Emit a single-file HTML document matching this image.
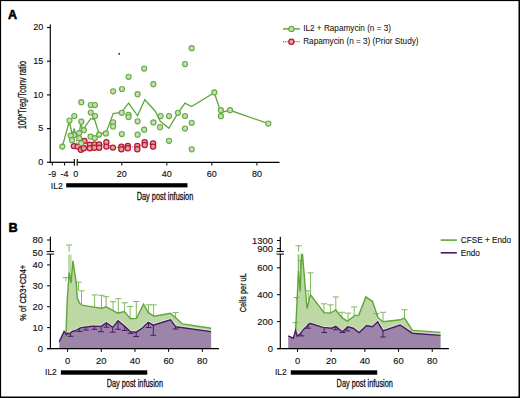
<!DOCTYPE html>
<html><head><meta charset="utf-8"><style>
html,body{margin:0;padding:0;background:#fff;}
svg{display:block;}
text{font-family:"Liberation Sans", sans-serif;}
</style></head><body>
<svg width="520" height="398" viewBox="0 0 520 398">
<rect x="0" y="0" width="520" height="398" fill="#fff"/>
<text x="8.0" y="18.7" font-size="12.5" text-anchor="start" font-weight="bold" stroke="#000" stroke-width="0.55" fill="#000">A</text>
<text x="8.5" y="231.6" font-size="12.8" text-anchor="start" font-weight="bold" stroke="#000" stroke-width="0.55" fill="#000">B</text>
<line x1="50.30" y1="24.50" x2="50.30" y2="162.85" stroke="#000" stroke-width="1.15"/>
<line x1="47.00" y1="162.30" x2="50.30" y2="162.30" stroke="#000" stroke-width="1.1"/>
<text x="43.3" y="165.1" font-size="9" text-anchor="end" font-weight="normal" stroke="#111" stroke-width="0.14" fill="#111">0</text>
<line x1="47.00" y1="128.60" x2="50.30" y2="128.60" stroke="#000" stroke-width="1.1"/>
<text x="43.3" y="131.4" font-size="9" text-anchor="end" font-weight="normal" stroke="#111" stroke-width="0.14" fill="#111">5</text>
<line x1="47.00" y1="94.90" x2="50.30" y2="94.90" stroke="#000" stroke-width="1.1"/>
<text x="43.3" y="97.7" font-size="9" text-anchor="end" font-weight="normal" stroke="#111" stroke-width="0.14" fill="#111">10</text>
<line x1="47.00" y1="61.20" x2="50.30" y2="61.20" stroke="#000" stroke-width="1.1"/>
<text x="43.3" y="64.0" font-size="9" text-anchor="end" font-weight="normal" stroke="#111" stroke-width="0.14" fill="#111">15</text>
<line x1="47.00" y1="27.50" x2="50.30" y2="27.50" stroke="#000" stroke-width="1.1"/>
<text x="43.3" y="30.3" font-size="9" text-anchor="end" font-weight="normal" stroke="#111" stroke-width="0.14" fill="#111">20</text>
<line x1="49.80" y1="162.30" x2="74.35" y2="162.30" stroke="#000" stroke-width="1.25"/>
<line x1="77.20" y1="162.30" x2="279.50" y2="162.30" stroke="#000" stroke-width="1.25"/>
<line x1="74.35" y1="159.00" x2="74.35" y2="165.80" stroke="#000" stroke-width="1.1"/>
<line x1="77.20" y1="159.00" x2="77.20" y2="165.80" stroke="#000" stroke-width="1.1"/>
<line x1="52.30" y1="162.30" x2="52.30" y2="165.50" stroke="#000" stroke-width="1.0"/>
<text x="52.3" y="176.8" font-size="9" text-anchor="middle" font-weight="normal" stroke="#111" stroke-width="0.14" fill="#111">-9</text>
<line x1="64.60" y1="162.30" x2="64.60" y2="165.50" stroke="#000" stroke-width="1.0"/>
<text x="64.6" y="176.8" font-size="9" text-anchor="middle" font-weight="normal" stroke="#111" stroke-width="0.14" fill="#111">-4</text>
<text x="75.7" y="176.8" font-size="9" text-anchor="middle" font-weight="normal" stroke="#111" stroke-width="0.14" fill="#111">0</text>
<line x1="121.80" y1="162.30" x2="121.80" y2="165.50" stroke="#000" stroke-width="1.0"/>
<text x="121.8" y="176.8" font-size="9" text-anchor="middle" font-weight="normal" stroke="#111" stroke-width="0.14" fill="#111">20</text>
<line x1="166.84" y1="162.30" x2="166.84" y2="165.50" stroke="#000" stroke-width="1.0"/>
<text x="166.84" y="176.8" font-size="9" text-anchor="middle" font-weight="normal" stroke="#111" stroke-width="0.14" fill="#111">40</text>
<line x1="211.87" y1="162.30" x2="211.87" y2="165.50" stroke="#000" stroke-width="1.0"/>
<text x="211.87" y="176.8" font-size="9" text-anchor="middle" font-weight="normal" stroke="#111" stroke-width="0.14" fill="#111">60</text>
<line x1="256.91" y1="162.30" x2="256.91" y2="165.50" stroke="#000" stroke-width="1.0"/>
<text x="256.91" y="176.8" font-size="9" text-anchor="middle" font-weight="normal" stroke="#111" stroke-width="0.14" fill="#111">80</text>
<text x="50.8" y="188.7" font-size="9" text-anchor="start" font-weight="normal" stroke="#111" stroke-width="0.14" textLength="11.9" lengthAdjust="spacingAndGlyphs" fill="#111">IL2</text>
<rect x="66.2" y="183.2" width="121.3" height="4.2" fill="#000"/>
<text x="136.7" y="199.8" font-size="10" text-anchor="start" font-weight="normal" stroke="#111" stroke-width="0.28" textLength="56.6" lengthAdjust="spacingAndGlyphs" fill="#111">Day post infusion</text>
<text x="26.4" y="95.0" font-size="10.3" text-anchor="middle" font-weight="normal" stroke="#111" stroke-width="0.25" textLength="68.0" lengthAdjust="spacingAndGlyphs" transform="rotate(-90 26.4 95.0)" fill="#111">100*Treg/Tconv ratio</text>
<polyline points="76.60,140.20 76.60,146.50 80.00,147.50 84.00,145.00 90.00,146.00 94.40,145.70 99.10,145.70 106.40,144.00 112.90,147.20 121.40,147.50 127.80,146.70 137.30,147.20 144.70,143.30 153.10,144.60" fill="none" stroke="#b8163c" stroke-width="0.9" stroke-dasharray="1 1.2"/>
<circle cx="73.9" cy="146.10" r="2.6" fill="#dea68e" stroke="#b8163c" stroke-width="1.25"/>
<circle cx="77.7" cy="146.60" r="2.6" fill="#dea68e" stroke="#b8163c" stroke-width="1.25"/>
<circle cx="80.9" cy="149.70" r="2.6" fill="#dea68e" stroke="#b8163c" stroke-width="1.25"/>
<circle cx="84.4" cy="140.90" r="2.6" fill="#dea68e" stroke="#b8163c" stroke-width="1.25"/>
<circle cx="83.8" cy="148.20" r="2.6" fill="#dea68e" stroke="#b8163c" stroke-width="1.25"/>
<circle cx="89.8" cy="144.70" r="2.6" fill="#dea68e" stroke="#b8163c" stroke-width="1.25"/>
<circle cx="89.9" cy="148.20" r="2.6" fill="#dea68e" stroke="#b8163c" stroke-width="1.25"/>
<circle cx="94.4" cy="144.50" r="2.6" fill="#dea68e" stroke="#b8163c" stroke-width="1.25"/>
<circle cx="94.4" cy="147.70" r="2.6" fill="#dea68e" stroke="#b8163c" stroke-width="1.25"/>
<circle cx="99.1" cy="144.40" r="2.6" fill="#dea68e" stroke="#b8163c" stroke-width="1.25"/>
<circle cx="99.1" cy="147.80" r="2.6" fill="#dea68e" stroke="#b8163c" stroke-width="1.25"/>
<circle cx="106.4" cy="142.20" r="2.6" fill="#dea68e" stroke="#b8163c" stroke-width="1.25"/>
<circle cx="106.4" cy="146.60" r="2.6" fill="#dea68e" stroke="#b8163c" stroke-width="1.25"/>
<circle cx="112.9" cy="147.60" r="2.6" fill="#dea68e" stroke="#b8163c" stroke-width="1.25"/>
<circle cx="121.4" cy="146.60" r="2.6" fill="#dea68e" stroke="#b8163c" stroke-width="1.25"/>
<circle cx="121.4" cy="149.20" r="2.6" fill="#dea68e" stroke="#b8163c" stroke-width="1.25"/>
<circle cx="127.8" cy="146.00" r="2.6" fill="#dea68e" stroke="#b8163c" stroke-width="1.25"/>
<circle cx="127.8" cy="148.20" r="2.6" fill="#dea68e" stroke="#b8163c" stroke-width="1.25"/>
<circle cx="137.3" cy="146.00" r="2.6" fill="#dea68e" stroke="#b8163c" stroke-width="1.25"/>
<circle cx="137.3" cy="149.20" r="2.6" fill="#dea68e" stroke="#b8163c" stroke-width="1.25"/>
<circle cx="144.7" cy="142.30" r="2.6" fill="#dea68e" stroke="#b8163c" stroke-width="1.25"/>
<circle cx="144.7" cy="145.00" r="2.6" fill="#dea68e" stroke="#b8163c" stroke-width="1.25"/>
<circle cx="153.1" cy="143.40" r="2.6" fill="#dea68e" stroke="#b8163c" stroke-width="1.25"/>
<circle cx="153.1" cy="146.60" r="2.6" fill="#dea68e" stroke="#b8163c" stroke-width="1.25"/>
<polyline points="62.30,146.60 69.30,121.50 72.30,135.00 74.20,128.50 75.50,134.50 79.20,132.50 80.80,124.30 83.10,129.70 90.80,118.50 94.60,119.60 99.00,133.50 105.80,133.40 113.20,113.60 121.40,112.30 128.60,103.10 137.60,115.80 144.80,99.70 155.30,111.20 160.30,121.30 168.90,128.30 178.00,112.80 185.00,103.10 191.50,106.50 214.30,92.80 220.90,112.50 230.00,110.30 268.30,123.60" fill="none" stroke="#5ea63b" stroke-width="1.3" stroke-linejoin="miter"/>
<circle cx="62.3" cy="146.6" r="2.55" fill="#c6ddb4" stroke="#66ac45" stroke-width="1.15"/>
<circle cx="69.5" cy="120.6" r="2.55" fill="#c6ddb4" stroke="#66ac45" stroke-width="1.15"/>
<circle cx="74.3" cy="116.1" r="2.55" fill="#c6ddb4" stroke="#66ac45" stroke-width="1.15"/>
<circle cx="81.3" cy="102.2" r="2.55" fill="#c6ddb4" stroke="#66ac45" stroke-width="1.15"/>
<circle cx="90.8" cy="105.1" r="2.55" fill="#c6ddb4" stroke="#66ac45" stroke-width="1.15"/>
<circle cx="94.9" cy="105.1" r="2.55" fill="#c6ddb4" stroke="#66ac45" stroke-width="1.15"/>
<circle cx="90.8" cy="112.5" r="2.55" fill="#c6ddb4" stroke="#66ac45" stroke-width="1.15"/>
<circle cx="95.0" cy="116.0" r="2.55" fill="#c6ddb4" stroke="#66ac45" stroke-width="1.15"/>
<circle cx="81.3" cy="121.7" r="2.55" fill="#c6ddb4" stroke="#66ac45" stroke-width="1.15"/>
<circle cx="83.9" cy="130.1" r="2.55" fill="#c6ddb4" stroke="#66ac45" stroke-width="1.15"/>
<circle cx="79.2" cy="133.1" r="2.55" fill="#c6ddb4" stroke="#66ac45" stroke-width="1.15"/>
<circle cx="74.1" cy="135.1" r="2.55" fill="#c6ddb4" stroke="#66ac45" stroke-width="1.15"/>
<circle cx="70.7" cy="135.6" r="2.55" fill="#c6ddb4" stroke="#66ac45" stroke-width="1.15"/>
<circle cx="72.0" cy="140.2" r="2.55" fill="#c6ddb4" stroke="#66ac45" stroke-width="1.15"/>
<circle cx="79.2" cy="138.2" r="2.55" fill="#c6ddb4" stroke="#66ac45" stroke-width="1.15"/>
<circle cx="81.3" cy="143.2" r="2.55" fill="#c6ddb4" stroke="#66ac45" stroke-width="1.15"/>
<circle cx="90.6" cy="136.7" r="2.55" fill="#c6ddb4" stroke="#66ac45" stroke-width="1.15"/>
<circle cx="94.8" cy="138.1" r="2.55" fill="#c6ddb4" stroke="#66ac45" stroke-width="1.15"/>
<circle cx="99.1" cy="134.6" r="2.55" fill="#c6ddb4" stroke="#66ac45" stroke-width="1.15"/>
<circle cx="105.9" cy="133.4" r="2.55" fill="#c6ddb4" stroke="#66ac45" stroke-width="1.15"/>
<circle cx="113.1" cy="122.3" r="2.55" fill="#c6ddb4" stroke="#66ac45" stroke-width="1.15"/>
<circle cx="113.1" cy="126.4" r="2.55" fill="#c6ddb4" stroke="#66ac45" stroke-width="1.15"/>
<circle cx="113.1" cy="91.3" r="2.55" fill="#c6ddb4" stroke="#66ac45" stroke-width="1.15"/>
<circle cx="128.6" cy="76.8" r="2.55" fill="#c6ddb4" stroke="#66ac45" stroke-width="1.15"/>
<circle cx="144.2" cy="68.6" r="2.55" fill="#c6ddb4" stroke="#66ac45" stroke-width="1.15"/>
<circle cx="153.4" cy="84.2" r="2.55" fill="#c6ddb4" stroke="#66ac45" stroke-width="1.15"/>
<circle cx="122.0" cy="89.0" r="2.55" fill="#c6ddb4" stroke="#66ac45" stroke-width="1.15"/>
<circle cx="137.6" cy="94.2" r="2.55" fill="#c6ddb4" stroke="#66ac45" stroke-width="1.15"/>
<circle cx="121.8" cy="112.8" r="2.55" fill="#c6ddb4" stroke="#66ac45" stroke-width="1.15"/>
<circle cx="128.5" cy="114.8" r="2.55" fill="#c6ddb4" stroke="#66ac45" stroke-width="1.15"/>
<circle cx="128.5" cy="117.0" r="2.55" fill="#c6ddb4" stroke="#66ac45" stroke-width="1.15"/>
<circle cx="137.6" cy="121.3" r="2.55" fill="#c6ddb4" stroke="#66ac45" stroke-width="1.15"/>
<circle cx="153.4" cy="122.4" r="2.55" fill="#c6ddb4" stroke="#66ac45" stroke-width="1.15"/>
<circle cx="160.6" cy="116.1" r="2.55" fill="#c6ddb4" stroke="#66ac45" stroke-width="1.15"/>
<circle cx="169.0" cy="116.1" r="2.55" fill="#c6ddb4" stroke="#66ac45" stroke-width="1.15"/>
<circle cx="160.0" cy="127.2" r="2.55" fill="#c6ddb4" stroke="#66ac45" stroke-width="1.15"/>
<circle cx="144.2" cy="129.7" r="2.55" fill="#c6ddb4" stroke="#66ac45" stroke-width="1.15"/>
<circle cx="121.8" cy="134.0" r="2.55" fill="#c6ddb4" stroke="#66ac45" stroke-width="1.15"/>
<circle cx="137.6" cy="134.7" r="2.55" fill="#c6ddb4" stroke="#66ac45" stroke-width="1.15"/>
<circle cx="169.0" cy="140.8" r="2.55" fill="#c6ddb4" stroke="#66ac45" stroke-width="1.15"/>
<circle cx="191.7" cy="48.2" r="2.55" fill="#c6ddb4" stroke="#66ac45" stroke-width="1.15"/>
<circle cx="185.0" cy="64.0" r="2.55" fill="#c6ddb4" stroke="#66ac45" stroke-width="1.15"/>
<circle cx="178.0" cy="112.8" r="2.55" fill="#c6ddb4" stroke="#66ac45" stroke-width="1.15"/>
<circle cx="185.0" cy="116.0" r="2.55" fill="#c6ddb4" stroke="#66ac45" stroke-width="1.15"/>
<circle cx="185.0" cy="128.5" r="2.55" fill="#c6ddb4" stroke="#66ac45" stroke-width="1.15"/>
<circle cx="191.7" cy="122.8" r="2.55" fill="#c6ddb4" stroke="#66ac45" stroke-width="1.15"/>
<circle cx="191.7" cy="149.3" r="2.55" fill="#c6ddb4" stroke="#66ac45" stroke-width="1.15"/>
<circle cx="214.3" cy="92.4" r="2.55" fill="#c6ddb4" stroke="#66ac45" stroke-width="1.15"/>
<circle cx="220.9" cy="110.2" r="2.55" fill="#c6ddb4" stroke="#66ac45" stroke-width="1.15"/>
<circle cx="220.9" cy="116.2" r="2.55" fill="#c6ddb4" stroke="#66ac45" stroke-width="1.15"/>
<circle cx="230.0" cy="110.2" r="2.55" fill="#c6ddb4" stroke="#66ac45" stroke-width="1.15"/>
<circle cx="268.3" cy="123.6" r="2.55" fill="#c6ddb4" stroke="#66ac45" stroke-width="1.15"/>
<circle cx="119.2" cy="53.8" r="0.9" fill="#111"/>
<line x1="283.00" y1="28.90" x2="299.90" y2="28.90" stroke="#5ea63b" stroke-width="1.5"/>
<circle cx="291.4" cy="28.9" r="2.6" fill="#c6ddb4" stroke="#66ac45" stroke-width="1.15"/>
<text x="303.2" y="31.0" font-size="8.2" text-anchor="start" font-weight="normal" stroke="#111" stroke-width="0.05" fill="#111">IL2 + Rapamycin (n = 3)</text>
<line x1="283.00" y1="41.70" x2="299.90" y2="41.70" stroke="#b8163c" stroke-width="1.1" stroke-dasharray="1 0.8"/>
<circle cx="291.4" cy="41.7" r="2.6" fill="#dea68e" stroke="#b8163c" stroke-width="1.25"/>
<text x="303.2" y="43.9" font-size="8.2" text-anchor="start" font-weight="normal" stroke="#111" stroke-width="0.05" fill="#111">Rapamycin (n = 3) (Prior Study)</text>
<polygon points="66.00,333.00 67.30,298.00 69.20,272.60 71.10,283.00 72.90,260.80 76.30,283.00 77.30,298.00 79.60,303.20 82.10,305.20 94.00,307.10 101.30,308.30 106.10,306.80 113.10,310.60 117.70,313.20 124.30,311.50 130.40,318.80 136.50,318.40 143.50,304.20 148.30,312.70 154.20,316.30 170.50,313.20 175.40,317.60 182.40,323.90 211.10,328.20 211.10,348.00 66.00,348.00" fill="#bed8a5"/>
<rect x="68.1" y="254.6" width="3.5" height="45.400000000000006" fill="#bed8a5"/>
<line x1="65.90" y1="277.60" x2="65.90" y2="281.00" stroke="#7fbb60" stroke-width="1.0"/>
<line x1="62.80" y1="277.60" x2="69.00" y2="277.60" stroke="#7fbb60" stroke-width="1.0"/>
<line x1="69.10" y1="245.00" x2="69.10" y2="251.60" stroke="#7fbb60" stroke-width="1.0"/>
<line x1="66.00" y1="245.00" x2="72.20" y2="245.00" stroke="#7fbb60" stroke-width="1.0"/>
<line x1="78.50" y1="282.20" x2="78.50" y2="290.00" stroke="#7fbb60" stroke-width="1.0"/>
<line x1="75.40" y1="282.20" x2="81.60" y2="282.20" stroke="#7fbb60" stroke-width="1.0"/>
<line x1="81.50" y1="290.80" x2="81.50" y2="304.00" stroke="#7fbb60" stroke-width="1.0"/>
<line x1="78.40" y1="290.80" x2="84.60" y2="290.80" stroke="#7fbb60" stroke-width="1.0"/>
<line x1="94.60" y1="294.90" x2="94.60" y2="307.00" stroke="#7fbb60" stroke-width="1.0"/>
<line x1="91.50" y1="294.90" x2="97.70" y2="294.90" stroke="#7fbb60" stroke-width="1.0"/>
<line x1="101.50" y1="295.30" x2="101.50" y2="308.30" stroke="#7fbb60" stroke-width="1.0"/>
<line x1="98.40" y1="295.30" x2="104.60" y2="295.30" stroke="#7fbb60" stroke-width="1.0"/>
<line x1="106.10" y1="296.70" x2="106.10" y2="306.80" stroke="#7fbb60" stroke-width="1.0"/>
<line x1="103.00" y1="296.70" x2="109.20" y2="296.70" stroke="#7fbb60" stroke-width="1.0"/>
<line x1="113.10" y1="301.70" x2="113.10" y2="310.60" stroke="#7fbb60" stroke-width="1.0"/>
<line x1="110.00" y1="301.70" x2="116.20" y2="301.70" stroke="#7fbb60" stroke-width="1.0"/>
<line x1="118.30" y1="298.70" x2="118.30" y2="313.20" stroke="#7fbb60" stroke-width="1.0"/>
<line x1="115.20" y1="298.70" x2="121.40" y2="298.70" stroke="#7fbb60" stroke-width="1.0"/>
<line x1="124.60" y1="302.80" x2="124.60" y2="311.50" stroke="#7fbb60" stroke-width="1.0"/>
<line x1="121.50" y1="302.80" x2="127.70" y2="302.80" stroke="#7fbb60" stroke-width="1.0"/>
<line x1="130.10" y1="306.50" x2="130.10" y2="318.80" stroke="#7fbb60" stroke-width="1.0"/>
<line x1="127.00" y1="306.50" x2="133.20" y2="306.50" stroke="#7fbb60" stroke-width="1.0"/>
<line x1="136.30" y1="301.50" x2="136.30" y2="318.40" stroke="#7fbb60" stroke-width="1.0"/>
<line x1="133.20" y1="301.50" x2="139.40" y2="301.50" stroke="#7fbb60" stroke-width="1.0"/>
<line x1="148.50" y1="304.80" x2="148.50" y2="312.70" stroke="#7fbb60" stroke-width="1.0"/>
<line x1="145.40" y1="304.80" x2="151.60" y2="304.80" stroke="#7fbb60" stroke-width="1.0"/>
<line x1="153.60" y1="304.80" x2="153.60" y2="316.30" stroke="#7fbb60" stroke-width="1.0"/>
<line x1="150.50" y1="304.80" x2="156.70" y2="304.80" stroke="#7fbb60" stroke-width="1.0"/>
<line x1="175.60" y1="312.60" x2="175.60" y2="317.60" stroke="#7fbb60" stroke-width="1.0"/>
<line x1="172.50" y1="312.60" x2="178.70" y2="312.60" stroke="#7fbb60" stroke-width="1.0"/>
<polyline points="66.40,334.60 67.80,333.10 69.20,333.80 72.40,331.50 75.20,330.80 80.00,328.20 81.40,327.60 92.00,326.20 101.10,326.40 106.40,322.80 112.70,327.40 118.00,320.80 124.70,326.40 130.50,331.70 136.20,332.20 142.00,328.30 148.30,322.30 153.20,325.20 170.50,319.80 175.80,326.80 211.10,331.60" fill="none" stroke="#d2e7c0" stroke-width="3.4" stroke-linejoin="miter"/>
<polygon points="59.20,341.80 64.10,331.40 66.40,334.60 67.80,333.10 69.20,333.80 72.40,331.50 75.20,330.80 80.00,328.20 81.40,327.60 92.00,326.20 101.10,326.40 106.40,322.80 112.70,327.40 118.00,320.80 124.70,326.40 130.50,331.70 136.20,332.20 142.00,328.30 148.30,322.30 153.20,325.20 170.50,319.80 175.80,326.80 211.10,331.60 211.10,348.00 59.20,348.00" fill="#9c85a9"/>
<polygon points="62.80,337.80 65.60,334.20 66.50,337.40" fill="#5ea63b" opacity="0.85"/>
<line x1="94.40" y1="329.30" x2="94.40" y2="326.00" stroke="#4a1a66" stroke-width="1.0"/>
<line x1="91.50" y1="329.30" x2="97.30" y2="329.30" stroke="#4a1a66" stroke-width="1.0"/>
<line x1="101.10" y1="331.70" x2="101.10" y2="326.40" stroke="#4a1a66" stroke-width="1.0"/>
<line x1="98.20" y1="331.70" x2="104.00" y2="331.70" stroke="#4a1a66" stroke-width="1.0"/>
<line x1="106.40" y1="327.20" x2="106.40" y2="322.80" stroke="#4a1a66" stroke-width="1.0"/>
<line x1="103.50" y1="327.20" x2="109.30" y2="327.20" stroke="#4a1a66" stroke-width="1.0"/>
<line x1="112.70" y1="332.20" x2="112.70" y2="327.40" stroke="#4a1a66" stroke-width="1.0"/>
<line x1="109.80" y1="332.20" x2="115.60" y2="332.20" stroke="#4a1a66" stroke-width="1.0"/>
<line x1="118.00" y1="329.30" x2="118.00" y2="320.80" stroke="#4a1a66" stroke-width="1.0"/>
<line x1="115.10" y1="329.30" x2="120.90" y2="329.30" stroke="#4a1a66" stroke-width="1.0"/>
<line x1="124.70" y1="330.50" x2="124.70" y2="326.40" stroke="#4a1a66" stroke-width="1.0"/>
<line x1="121.80" y1="330.50" x2="127.60" y2="330.50" stroke="#4a1a66" stroke-width="1.0"/>
<line x1="130.50" y1="333.30" x2="130.50" y2="331.70" stroke="#4a1a66" stroke-width="1.0"/>
<line x1="127.60" y1="333.30" x2="133.40" y2="333.30" stroke="#4a1a66" stroke-width="1.0"/>
<line x1="136.20" y1="336.50" x2="136.20" y2="332.20" stroke="#4a1a66" stroke-width="1.0"/>
<line x1="133.30" y1="336.50" x2="139.10" y2="336.50" stroke="#4a1a66" stroke-width="1.0"/>
<line x1="148.50" y1="327.50" x2="148.50" y2="322.30" stroke="#4a1a66" stroke-width="1.0"/>
<line x1="145.60" y1="327.50" x2="151.40" y2="327.50" stroke="#4a1a66" stroke-width="1.0"/>
<line x1="175.60" y1="329.00" x2="175.60" y2="326.80" stroke="#4a1a66" stroke-width="1.0"/>
<line x1="172.70" y1="329.00" x2="178.50" y2="329.00" stroke="#4a1a66" stroke-width="1.0"/>
<line x1="153.30" y1="335.30" x2="153.30" y2="325.20" stroke="#4a1a66" stroke-width="1.0"/>
<line x1="150.40" y1="335.30" x2="156.20" y2="335.30" stroke="#4a1a66" stroke-width="1.0"/>
<line x1="79.60" y1="331.50" x2="79.60" y2="328.50" stroke="#4a1a66" stroke-width="1.0"/>
<line x1="76.70" y1="331.50" x2="82.50" y2="331.50" stroke="#4a1a66" stroke-width="1.0"/>
<line x1="86.00" y1="330.00" x2="86.00" y2="327.00" stroke="#4a1a66" stroke-width="1.0"/>
<line x1="83.10" y1="330.00" x2="88.90" y2="330.00" stroke="#4a1a66" stroke-width="1.0"/>
<line x1="70.60" y1="336.30" x2="70.60" y2="333.50" stroke="#4a1a66" stroke-width="1.0"/>
<line x1="67.70" y1="336.30" x2="73.50" y2="336.30" stroke="#4a1a66" stroke-width="1.0"/>
<polyline points="66.00,333.00 67.30,298.00 69.20,272.60 71.10,283.00 72.90,260.80 76.30,283.00 77.30,298.00 79.60,303.20 82.10,305.20 94.00,307.10 101.30,308.30 106.10,306.80 113.10,310.60 117.70,313.20 124.30,311.50 130.40,318.80 136.50,318.40 143.50,304.20 148.30,312.70 154.20,316.30 170.50,313.20 175.40,317.60 182.40,323.90 211.10,328.20" fill="none" stroke="#5ea63b" stroke-width="1.4" stroke-linejoin="miter"/>
<polyline points="59.20,341.80 64.10,331.40 66.40,334.60 67.80,333.10 69.20,333.80 72.40,331.50 75.20,330.80 80.00,328.20 81.40,327.60 92.00,326.20 101.10,326.40 106.40,322.80 112.70,327.40 118.00,320.80 124.70,326.40 130.50,331.70 136.20,332.20 142.00,328.30 148.30,322.30 153.20,325.20 170.50,319.80 175.80,326.80 211.10,331.60" fill="none" stroke="#4a1a66" stroke-width="1.4" stroke-linejoin="miter"/>
<line x1="50.40" y1="236.80" x2="50.40" y2="251.60" stroke="#000" stroke-width="1.15"/>
<line x1="50.40" y1="254.10" x2="50.40" y2="349.20" stroke="#000" stroke-width="1.15"/>
<line x1="46.60" y1="251.60" x2="54.10" y2="251.60" stroke="#000" stroke-width="1.0"/>
<line x1="46.60" y1="254.10" x2="54.10" y2="254.10" stroke="#000" stroke-width="1.0"/>
<line x1="47.10" y1="348.60" x2="219.00" y2="348.60" stroke="#000" stroke-width="1.25"/>
<line x1="47.10" y1="240.00" x2="50.40" y2="240.00" stroke="#000" stroke-width="1.0"/>
<text x="43.0" y="243.0" font-size="9.4" text-anchor="end" font-weight="normal" stroke="#111" stroke-width="0.14" fill="#111">80</text>
<text x="43.0" y="256.0" font-size="9.4" text-anchor="end" font-weight="normal" stroke="#111" stroke-width="0.14" fill="#111">50</text>
<line x1="47.10" y1="264.90" x2="50.40" y2="264.90" stroke="#000" stroke-width="1.0"/>
<text x="43.0" y="267.9" font-size="9.4" text-anchor="end" font-weight="normal" stroke="#111" stroke-width="0.14" fill="#111">40</text>
<line x1="47.10" y1="285.80" x2="50.40" y2="285.80" stroke="#000" stroke-width="1.0"/>
<text x="43.0" y="288.8" font-size="9.4" text-anchor="end" font-weight="normal" stroke="#111" stroke-width="0.14" fill="#111">30</text>
<line x1="47.10" y1="306.70" x2="50.40" y2="306.70" stroke="#000" stroke-width="1.0"/>
<text x="43.0" y="309.7" font-size="9.4" text-anchor="end" font-weight="normal" stroke="#111" stroke-width="0.14" fill="#111">20</text>
<line x1="47.10" y1="327.60" x2="50.40" y2="327.60" stroke="#000" stroke-width="1.0"/>
<text x="43.0" y="330.6" font-size="9.4" text-anchor="end" font-weight="normal" stroke="#111" stroke-width="0.14" fill="#111">10</text>
<line x1="47.10" y1="348.60" x2="50.40" y2="348.60" stroke="#000" stroke-width="1.0"/>
<text x="43.0" y="351.6" font-size="9.4" text-anchor="end" font-weight="normal" stroke="#111" stroke-width="0.14" fill="#111">0</text>
<line x1="67.60" y1="348.60" x2="67.60" y2="351.90" stroke="#000" stroke-width="1.0"/>
<text x="67.6" y="363.6" font-size="9.4" text-anchor="middle" font-weight="normal" stroke="#111" stroke-width="0.14" fill="#111">0</text>
<line x1="101.28" y1="348.60" x2="101.28" y2="351.90" stroke="#000" stroke-width="1.0"/>
<text x="101.28" y="363.6" font-size="9.4" text-anchor="middle" font-weight="normal" stroke="#111" stroke-width="0.14" fill="#111">20</text>
<line x1="134.96" y1="348.60" x2="134.96" y2="351.90" stroke="#000" stroke-width="1.0"/>
<text x="134.96" y="363.6" font-size="9.4" text-anchor="middle" font-weight="normal" stroke="#111" stroke-width="0.14" fill="#111">40</text>
<line x1="168.64" y1="348.60" x2="168.64" y2="351.90" stroke="#000" stroke-width="1.0"/>
<text x="168.64" y="363.6" font-size="9.4" text-anchor="middle" font-weight="normal" stroke="#111" stroke-width="0.14" fill="#111">60</text>
<line x1="202.32" y1="348.60" x2="202.32" y2="351.90" stroke="#000" stroke-width="1.0"/>
<text x="202.32" y="363.6" font-size="9.4" text-anchor="middle" font-weight="normal" stroke="#111" stroke-width="0.14" fill="#111">80</text>
<text x="45.1" y="375.4" font-size="8.6" text-anchor="start" font-weight="normal" stroke="#111" stroke-width="0.14" textLength="11.7" lengthAdjust="spacingAndGlyphs" fill="#111">IL2</text>
<rect x="60.9" y="370.3" width="86.4" height="4.4" fill="#000"/>
<text x="106.7" y="386.8" font-size="10" text-anchor="start" font-weight="normal" stroke="#111" stroke-width="0.28" textLength="56.3" lengthAdjust="spacingAndGlyphs" fill="#111">Day post infusion</text>
<text x="26.3" y="292.75" font-size="9.7" text-anchor="middle" font-weight="normal" stroke="#111" stroke-width="0.28" textLength="55.9" lengthAdjust="spacingAndGlyphs" transform="rotate(-90 26.3 292.75)" fill="#111">% of CD3+CD4+</text>
<polygon points="295.60,331.00 298.50,271.00 300.20,291.50 301.50,254.50 302.50,254.50 307.00,308.50 310.40,294.60 324.20,312.80 330.40,313.10 335.80,310.00 341.90,317.70 347.30,321.20 355.00,315.40 358.80,315.10 365.80,296.90 372.40,301.30 378.10,317.70 383.00,321.80 400.10,319.80 404.50,318.00 412.40,330.40 440.50,332.40 440.50,348.00 295.60,348.00" fill="#bed8a5"/>
<rect x="297.6" y="254.5" width="2.0" height="45.5" fill="#bed8a5"/>
<line x1="298.60" y1="245.80" x2="298.60" y2="251.60" stroke="#7fbb60" stroke-width="1.0"/>
<line x1="295.50" y1="245.80" x2="301.70" y2="245.80" stroke="#7fbb60" stroke-width="1.0"/>
<line x1="300.60" y1="260.30" x2="300.60" y2="270.00" stroke="#7fbb60" stroke-width="1.0"/>
<line x1="297.50" y1="260.30" x2="303.70" y2="260.30" stroke="#7fbb60" stroke-width="1.0"/>
<line x1="310.50" y1="272.80" x2="310.50" y2="294.60" stroke="#7fbb60" stroke-width="1.0"/>
<line x1="307.40" y1="272.80" x2="313.60" y2="272.80" stroke="#7fbb60" stroke-width="1.0"/>
<line x1="308.20" y1="290.80" x2="308.20" y2="300.00" stroke="#7fbb60" stroke-width="1.0"/>
<line x1="305.10" y1="290.80" x2="311.30" y2="290.80" stroke="#7fbb60" stroke-width="1.0"/>
<line x1="296.50" y1="297.50" x2="296.50" y2="300.00" stroke="#7fbb60" stroke-width="1.0"/>
<line x1="293.40" y1="297.50" x2="299.60" y2="297.50" stroke="#7fbb60" stroke-width="1.0"/>
<line x1="295.60" y1="322.60" x2="295.60" y2="330.00" stroke="#7fbb60" stroke-width="1.0"/>
<line x1="292.50" y1="322.60" x2="298.70" y2="322.60" stroke="#7fbb60" stroke-width="1.0"/>
<line x1="323.90" y1="303.80" x2="323.90" y2="312.80" stroke="#7fbb60" stroke-width="1.0"/>
<line x1="320.80" y1="303.80" x2="327.00" y2="303.80" stroke="#7fbb60" stroke-width="1.0"/>
<line x1="330.40" y1="304.90" x2="330.40" y2="313.10" stroke="#7fbb60" stroke-width="1.0"/>
<line x1="327.30" y1="304.90" x2="333.50" y2="304.90" stroke="#7fbb60" stroke-width="1.0"/>
<line x1="335.80" y1="296.90" x2="335.80" y2="310.00" stroke="#7fbb60" stroke-width="1.0"/>
<line x1="332.70" y1="296.90" x2="338.90" y2="296.90" stroke="#7fbb60" stroke-width="1.0"/>
<line x1="341.90" y1="312.30" x2="341.90" y2="317.70" stroke="#7fbb60" stroke-width="1.0"/>
<line x1="338.80" y1="312.30" x2="345.00" y2="312.30" stroke="#7fbb60" stroke-width="1.0"/>
<line x1="348.10" y1="313.10" x2="348.10" y2="321.20" stroke="#7fbb60" stroke-width="1.0"/>
<line x1="345.00" y1="313.10" x2="351.20" y2="313.10" stroke="#7fbb60" stroke-width="1.0"/>
<line x1="354.20" y1="306.90" x2="354.20" y2="315.40" stroke="#7fbb60" stroke-width="1.0"/>
<line x1="351.10" y1="306.90" x2="357.30" y2="306.90" stroke="#7fbb60" stroke-width="1.0"/>
<line x1="376.40" y1="313.60" x2="376.40" y2="316.00" stroke="#7fbb60" stroke-width="1.0"/>
<line x1="373.30" y1="313.60" x2="379.50" y2="313.60" stroke="#7fbb60" stroke-width="1.0"/>
<line x1="383.00" y1="312.30" x2="383.00" y2="321.80" stroke="#7fbb60" stroke-width="1.0"/>
<line x1="379.90" y1="312.30" x2="386.10" y2="312.30" stroke="#7fbb60" stroke-width="1.0"/>
<line x1="404.50" y1="309.80" x2="404.50" y2="318.00" stroke="#7fbb60" stroke-width="1.0"/>
<line x1="401.40" y1="309.80" x2="407.60" y2="309.80" stroke="#7fbb60" stroke-width="1.0"/>
<polyline points="295.60,330.50 297.30,336.20 300.60,333.30 303.50,329.40 310.10,323.30 322.90,327.40 331.60,328.20 335.70,326.40 342.40,331.80 347.80,326.80 353.20,328.20 359.20,332.50 366.60,325.50 372.40,326.70 377.70,321.80 383.00,330.80 400.10,325.00 412.40,333.20 440.50,335.40" fill="none" stroke="#d2e7c0" stroke-width="3.4" stroke-linejoin="miter"/>
<polygon points="288.20,335.90 293.30,338.20 295.60,330.50 297.30,336.20 300.60,333.30 303.50,329.40 310.10,323.30 322.90,327.40 331.60,328.20 335.70,326.40 342.40,331.80 347.80,326.80 353.20,328.20 359.20,332.50 366.60,325.50 372.40,326.70 377.70,321.80 383.00,330.80 400.10,325.00 412.40,333.20 440.50,335.40 440.50,348.00 288.20,348.00" fill="#9c85a9"/>
<line x1="298.60" y1="254.50" x2="298.60" y2="271.00" stroke="#7fbb60" stroke-width="1.0"/>
<line x1="383.00" y1="337.00" x2="383.00" y2="330.80" stroke="#4a1a66" stroke-width="1.0"/>
<line x1="380.10" y1="337.00" x2="385.90" y2="337.00" stroke="#4a1a66" stroke-width="1.0"/>
<line x1="308.10" y1="328.20" x2="308.10" y2="323.60" stroke="#4a1a66" stroke-width="1.0"/>
<line x1="305.20" y1="328.20" x2="311.00" y2="328.20" stroke="#4a1a66" stroke-width="1.0"/>
<line x1="324.20" y1="332.50" x2="324.20" y2="327.60" stroke="#4a1a66" stroke-width="1.0"/>
<line x1="321.30" y1="332.50" x2="327.10" y2="332.50" stroke="#4a1a66" stroke-width="1.0"/>
<line x1="335.70" y1="329.80" x2="335.70" y2="326.40" stroke="#4a1a66" stroke-width="1.0"/>
<line x1="332.80" y1="329.80" x2="338.60" y2="329.80" stroke="#4a1a66" stroke-width="1.0"/>
<line x1="342.40" y1="332.50" x2="342.40" y2="331.80" stroke="#4a1a66" stroke-width="1.0"/>
<line x1="339.50" y1="332.50" x2="345.30" y2="332.50" stroke="#4a1a66" stroke-width="1.0"/>
<line x1="347.10" y1="330.90" x2="347.10" y2="326.80" stroke="#4a1a66" stroke-width="1.0"/>
<line x1="344.20" y1="330.90" x2="350.00" y2="330.90" stroke="#4a1a66" stroke-width="1.0"/>
<line x1="301.30" y1="335.90" x2="301.30" y2="333.50" stroke="#4a1a66" stroke-width="1.0"/>
<line x1="298.40" y1="335.90" x2="304.20" y2="335.90" stroke="#4a1a66" stroke-width="1.0"/>
<polyline points="295.60,331.00 298.50,271.00 300.20,291.50 301.50,254.50 302.50,254.50 307.00,308.50 310.40,294.60 324.20,312.80 330.40,313.10 335.80,310.00 341.90,317.70 347.30,321.20 355.00,315.40 358.80,315.10 365.80,296.90 372.40,301.30 378.10,317.70 383.00,321.80 400.10,319.80 404.50,318.00 412.40,330.40 440.50,332.40" fill="none" stroke="#5ea63b" stroke-width="1.4" stroke-linejoin="miter"/>
<polyline points="288.20,335.90 293.30,338.20 295.60,330.50 297.30,336.20 300.60,333.30 303.50,329.40 310.10,323.30 322.90,327.40 331.60,328.20 335.70,326.40 342.40,331.80 347.80,326.80 353.20,328.20 359.20,332.50 366.60,325.50 372.40,326.70 377.70,321.80 383.00,330.80 400.10,325.00 412.40,333.20 440.50,335.40" fill="none" stroke="#4a1a66" stroke-width="1.4" stroke-linejoin="miter"/>
<line x1="280.30" y1="236.80" x2="280.30" y2="251.60" stroke="#000" stroke-width="1.15"/>
<line x1="280.30" y1="254.10" x2="280.30" y2="349.20" stroke="#000" stroke-width="1.15"/>
<line x1="276.50" y1="251.60" x2="284.00" y2="251.60" stroke="#000" stroke-width="1.0"/>
<line x1="276.50" y1="254.10" x2="284.00" y2="254.10" stroke="#000" stroke-width="1.0"/>
<line x1="277.00" y1="348.60" x2="448.90" y2="348.60" stroke="#000" stroke-width="1.25"/>
<line x1="277.00" y1="240.50" x2="280.30" y2="240.50" stroke="#000" stroke-width="1.0"/>
<text x="272.9" y="243.5" font-size="9.4" text-anchor="end" font-weight="normal" stroke="#111" stroke-width="0.14" fill="#111">1300</text>
<line x1="277.00" y1="248.70" x2="280.30" y2="248.70" stroke="#000" stroke-width="1.0"/>
<text x="272.9" y="251.7" font-size="9.4" text-anchor="end" font-weight="normal" stroke="#111" stroke-width="0.14" fill="#111">900</text>
<line x1="277.00" y1="267.80" x2="280.30" y2="267.80" stroke="#000" stroke-width="1.0"/>
<text x="272.9" y="270.8" font-size="9.4" text-anchor="end" font-weight="normal" stroke="#111" stroke-width="0.14" fill="#111">600</text>
<line x1="277.00" y1="294.70" x2="280.30" y2="294.70" stroke="#000" stroke-width="1.0"/>
<text x="272.9" y="297.7" font-size="9.4" text-anchor="end" font-weight="normal" stroke="#111" stroke-width="0.14" fill="#111">400</text>
<line x1="277.00" y1="321.60" x2="280.30" y2="321.60" stroke="#000" stroke-width="1.0"/>
<text x="272.9" y="324.6" font-size="9.4" text-anchor="end" font-weight="normal" stroke="#111" stroke-width="0.14" fill="#111">200</text>
<line x1="277.00" y1="348.60" x2="280.30" y2="348.60" stroke="#000" stroke-width="1.0"/>
<text x="272.9" y="351.6" font-size="9.4" text-anchor="end" font-weight="normal" stroke="#111" stroke-width="0.14" fill="#111">0</text>
<line x1="297.50" y1="348.60" x2="297.50" y2="351.90" stroke="#000" stroke-width="1.0"/>
<text x="297.5" y="363.6" font-size="9.4" text-anchor="middle" font-weight="normal" stroke="#111" stroke-width="0.14" fill="#111">0</text>
<line x1="331.18" y1="348.60" x2="331.18" y2="351.90" stroke="#000" stroke-width="1.0"/>
<text x="331.18" y="363.6" font-size="9.4" text-anchor="middle" font-weight="normal" stroke="#111" stroke-width="0.14" fill="#111">20</text>
<line x1="364.86" y1="348.60" x2="364.86" y2="351.90" stroke="#000" stroke-width="1.0"/>
<text x="364.86" y="363.6" font-size="9.4" text-anchor="middle" font-weight="normal" stroke="#111" stroke-width="0.14" fill="#111">40</text>
<line x1="398.54" y1="348.60" x2="398.54" y2="351.90" stroke="#000" stroke-width="1.0"/>
<text x="398.54" y="363.6" font-size="9.4" text-anchor="middle" font-weight="normal" stroke="#111" stroke-width="0.14" fill="#111">60</text>
<line x1="432.22" y1="348.60" x2="432.22" y2="351.90" stroke="#000" stroke-width="1.0"/>
<text x="432.22" y="363.6" font-size="9.4" text-anchor="middle" font-weight="normal" stroke="#111" stroke-width="0.14" fill="#111">80</text>
<text x="275.0" y="375.4" font-size="8.6" text-anchor="start" font-weight="normal" stroke="#111" stroke-width="0.14" textLength="11.7" lengthAdjust="spacingAndGlyphs" fill="#111">IL2</text>
<rect x="290.8" y="370.3" width="86.4" height="4.4" fill="#000"/>
<text x="336.6" y="386.8" font-size="10" text-anchor="start" font-weight="normal" stroke="#111" stroke-width="0.28" textLength="56.3" lengthAdjust="spacingAndGlyphs" fill="#111">Day post infusion</text>
<text x="245.6" y="292.75" font-size="9.7" text-anchor="middle" font-weight="normal" stroke="#111" stroke-width="0.28" textLength="38.9" lengthAdjust="spacingAndGlyphs" transform="rotate(-90 245.6 292.75)" fill="#111">Cells per uL</text>
<line x1="440.70" y1="240.10" x2="456.80" y2="240.10" stroke="#5ea63b" stroke-width="1.6"/>
<line x1="440.70" y1="252.80" x2="456.80" y2="252.80" stroke="#4a1a66" stroke-width="1.6"/>
<text x="460.8" y="243.1" font-size="8.2" text-anchor="start" font-weight="normal" stroke="#111" stroke-width="0.1" fill="#111">CFSE + Endo</text>
<text x="460.8" y="255.5" font-size="8.2" text-anchor="start" font-weight="normal" stroke="#111" stroke-width="0.1" fill="#111">Endo</text>
<rect x="0" y="0" width="520" height="1.1" fill="#000"/>
<rect x="0" y="0" width="1.1" height="398" fill="#000"/>
<rect x="518.5" y="0" width="1.5" height="398" fill="#000"/>
<rect x="0" y="396.5" width="520" height="1.5" fill="#000"/>
</svg>
</body></html>
